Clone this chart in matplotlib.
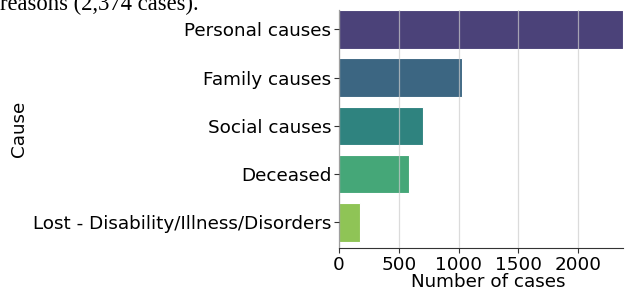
import matplotlib
matplotlib.use("Agg")
import matplotlib.pyplot as plt
import seaborn as sns

causes = ["Personal causes", "Family causes", "Social causes", "Deceased",
          "Lost - Disability/Illness/Disorders"]
cases = [2374, 1028, 704, 581, 179]
xticks = [0, 500, 1000, 1500, 2000]

colors = sns.color_palette("viridis", len(causes), desat=0.75)

fig = plt.figure(figsize=(6.26, 2.91), dpi=100)
ax = fig.add_axes([339/626, 1 - 248/291, (623-339)/626, (248-10)/291])

ypos = list(range(len(causes)))
ax.barh(ypos, cases, height=0.8, color=colors, edgecolor="white", linewidth=0.8, zorder=2)
ax.set_ylim(len(causes) - 0.47, -0.40)
ax.set_xlim(0, max(cases))
ax.set_yticks(ypos)
ax.set_yticklabels(causes, fontsize=13.2)
ax.set_xticks(xticks)
ax.set_xticklabels([str(t) for t in xticks], fontsize=13.2)
ax.xaxis.grid(True, color="#cccccc", linewidth=0.9, alpha=0.7, zorder=3)
ax.set_axisbelow(False)
for s in ["top", "right"]:
    ax.spines[s].set_visible(False)
for s in ["left", "bottom"]:
    ax.spines[s].set_color("#333333")
ax.tick_params(axis="both", colors="#333333", labelcolor="black", length=3.5, pad=2)
ax.set_xlabel("Number of cases", fontsize=13.2)
ax.xaxis.set_label_coords((488 - 339) / 284, -(282 - 248) / 238)
ax.xaxis.label.set_va("center")
ax.set_ylabel("Cause", fontsize=13.2)
ax.yaxis.set_label_coords(-(339 - 19) / 284, 0.5)
ax.yaxis.label.set_va("center")

fig.text(0.0, 1 - 10/291, "reasons (2,374 cases).", family="Liberation Serif",
         fontsize=16.3, va="baseline", ha="left")

fig.savefig("out.png", dpi=100)
